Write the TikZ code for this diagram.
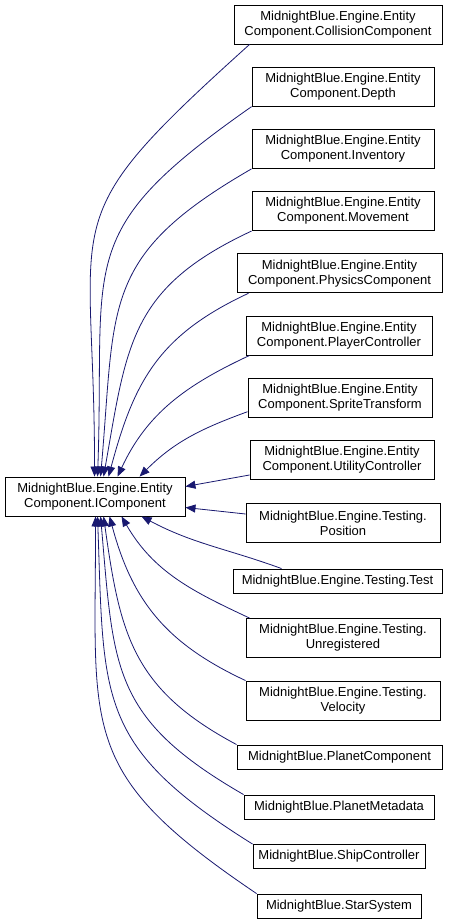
\documentclass[tikz,border=0pt]{standalone}
\usepackage{fontspec}
\setmainfont{Liberation Sans}
\usetikzlibrary{arrows.meta}
\definecolor{mblue}{HTML}{191970}
\begin{document}
\begin{tikzpicture}[x=1pt,y=1pt,
  box/.style={draw=black, line width=0.9pt, fill=white, align=center,
    font=\fontsize{13}{15}\selectfont, inner sep=0pt, minimum height=39pt},
  one/.style={box, minimum height=24pt},
  edge/.style={draw=mblue, line width=0.8pt, -{Triangle[length=10pt,width=8pt]}}]
\useasboundingbox (0,0) rectangle (457,-923);
\fill[white] (0,0) rectangle (457,-923);

\node[box, minimum width=180pt] (ic) at (95,-496.5) {MidnightBlue.Engine.Entity\\Component.IComponent};

\node[box, minimum width=208pt] (c1) at (338,-24.5) {MidnightBlue.Engine.Entity\\Component.CollisionComponent};
\node[box, minimum width=182pt] (c2) at (343,-86.7) {MidnightBlue.Engine.Entity\\Component.Depth};
\node[box, minimum width=182pt] (c3) at (343,-148.9) {MidnightBlue.Engine.Entity\\Component.Inventory};
\node[box, minimum width=182pt] (c4) at (343,-211.1) {MidnightBlue.Engine.Entity\\Component.Movement};
\node[box, minimum width=205pt] (c5) at (339.5,-273.3) {MidnightBlue.Engine.Entity\\Component.PhysicsComponent};
\node[box, minimum width=186pt] (c6) at (339,-335.5) {MidnightBlue.Engine.Entity\\Component.PlayerController};
\node[box, minimum width=184pt] (c7) at (340,-397.7) {MidnightBlue.Engine.Entity\\Component.SpriteTransform};
\node[box, minimum width=184pt] (c8) at (342,-460) {MidnightBlue.Engine.Entity\\Component.UtilityController};
\node[box, minimum width=194pt] (c9) at (343,-523) {MidnightBlue.Engine.Testing.\\Position};
\node[one, minimum width=209pt] (c10) at (337.5,-581) {MidnightBlue.Engine.Testing.Test};
\node[box, minimum width=194pt] (c11) at (343,-638) {MidnightBlue.Engine.Testing.\\Unregistered};
\node[box, minimum width=194pt] (c12) at (343,-700.5) {MidnightBlue.Engine.Testing.\\Velocity};
\node[one, minimum width=205pt] (c13) at (339.5,-757) {MidnightBlue.PlanetComponent};
\node[one, minimum width=190pt] (c14) at (339,-807) {MidnightBlue.PlanetMetadata};
\node[one, minimum width=172pt] (c15) at (339,-856.5) {MidnightBlue.ShipController};
\node[one, minimum width=164pt] (c16) at (339,-906) {MidnightBlue.StarSystem};

\draw[edge] ([xshift=16pt]c1.south west) to[out=222,in=90,looseness=1.5] ([xshift=90pt]ic.north west);
\draw[edge] (c2.south west) to[out=215,in=88,looseness=1.4] ([xshift=93pt]ic.north west);
\draw[edge] (c3.south west) to[out=210,in=85,looseness=1.3] ([xshift=96pt]ic.north west);
\draw[edge] (c4.south west) to[out=205,in=80,looseness=1.2] ([xshift=99pt]ic.north west);
\draw[edge] ([xshift=12pt]c5.south west) to[out=205,in=75,looseness=1.1] ([xshift=104pt]ic.north west);
\draw[edge] ([xshift=4pt]c6.south west) to[out=205,in=65] ([xshift=113pt]ic.north west);
\draw[edge] ([yshift=-14pt]c7.west) to[out=200,in=45] ([xshift=135pt]ic.north west);
\draw[edge] ([yshift=-15pt]c8.west) -- ([yshift=10pt]ic.east);
\draw[edge] ([yshift=9pt]c9.west) -- ([yshift=-11pt]ic.east);
\draw[edge] ([xshift=49pt]c10.north west) to[out=160,in=-28] ([xshift=137pt]ic.south west);
\draw[edge] ([xshift=4pt]c11.north west) to[out=155,in=-60] ([xshift=117pt]ic.south west);
\draw[edge] (c12.north west) to[out=155,in=-75,looseness=1.05] ([xshift=105pt]ic.south west);
\draw[edge] (c13.north west) to[out=152,in=-82,looseness=1.15] ([xshift=99pt]ic.south west);
\draw[edge] (c14.north west) to[out=150,in=-85,looseness=1.25] ([xshift=96pt]ic.south west);
\draw[edge] (c15.north west) to[out=148,in=-88,looseness=1.3] ([xshift=93pt]ic.south west);
\draw[edge] (c16.north west) to[out=146,in=-90,looseness=1.35] ([xshift=91pt]ic.south west);
\end{tikzpicture}
\end{document}
